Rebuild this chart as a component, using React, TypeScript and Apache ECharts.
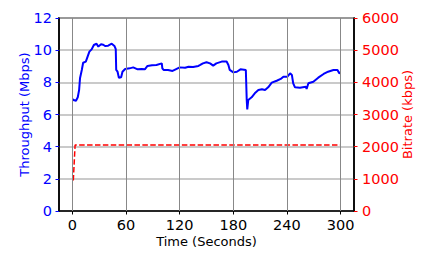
import React, { useEffect, useRef } from "react";
import * as echarts from "echarts";

const timeTicks = [0, 60, 120, 180, 240, 300];

const throughputTimes = [
  0, 2, 4, 6, 7.5, 8.5, 10.5, 12, 15, 17, 19, 21.5, 24, 27, 29, 32, 34.5, 36.5, 40, 44, 47, 48.5,
  49, 50.5, 52, 54.5, 56, 59, 64, 68, 73, 77.5, 81, 84, 89, 94, 100, 100.6, 102, 107, 112, 115.5,
  120, 126, 130, 135, 141, 143, 146, 150, 154, 157.5, 161, 167, 172.5, 174.5, 176, 180, 184, 188,
  194, 195, 195.6, 196.7, 200.5, 204, 208, 212, 215.5, 219, 223, 228.5, 233, 236, 240.5, 243.5,
  245.5, 247, 249, 254.5, 261, 262, 264, 269.5, 275, 281, 286, 292, 296.5, 298.5, 300,
];
const throughputValues = [
  6.95, 6.88, 6.86, 7.07, 7.52, 8.25, 8.77, 9.22, 9.29, 9.6, 9.91, 10.05, 10.32, 10.4, 10.22, 10.37,
  10.34, 10.26, 10.28, 10.4, 10.26, 10.06, 8.77, 8.66, 8.29, 8.31, 8.66, 8.83, 8.87, 8.93, 8.81,
  8.83, 8.81, 9.02, 9.06, 9.08, 9.18, 8.87, 8.77, 8.77, 8.71, 8.81, 8.93, 8.91, 8.97, 8.96, 9.02,
  9.08, 9.18, 9.25, 9.18, 9.04, 9.18, 9.29, 9.29, 9.08, 8.77, 8.62, 8.66, 8.81, 8.77, 6.9, 6.32,
  6.9, 7.07, 7.32, 7.52, 7.57, 7.52, 7.69, 7.98, 8.1, 8.21, 8.35, 8.35, 8.56, 8.46, 7.94, 7.69,
  7.67, 7.73, 7.59, 7.94, 8.04, 8.29, 8.52, 8.66, 8.77, 8.77, 8.56, 8.62,
];

const bitrateTimes = [1, 3, 300];
const bitrateValues = [950, 2050, 2050];

const FONT = "DejaVu Sans";
const BLUE = "#0000ff";
const RED = "#ff0000";

export default function App() {
  const ref = useRef<HTMLDivElement>(null);
  useEffect(() => {
    const chart = echarts.init(ref.current!, null, { renderer: "svg" });
    const throughput = throughputTimes.map((t, i) => [t, throughputValues[i]]);
    const bitrate = bitrateTimes.map((t, i) => [t, bitrateValues[i]]);
    chart.setOption({
      animation: false,
      backgroundColor: "#ffffff",
      textStyle: { fontFamily: FONT },
      grid: {
        left: 59,
        right: 68,
        top: 18,
        bottom: 44,
        show: true,
        borderColor: "#000",
        borderWidth: 1.5,
        backgroundColor: "transparent",
        outerBoundsMode: "none",
      },
      xAxis: {
        type: "value",
        min: -15,
        max: 315,
        name: "Time (Seconds)",
        nameLocation: "middle",
        nameGap: 24,
        nameMoveOverlap: false,
        nameTextStyle: { fontFamily: FONT, fontSize: 13, color: "#000" },
        axisLine: { show: true, onZero: false, lineStyle: { color: "#000", width: 1.5 } },
        axisTick: {
          show: true,
          inside: false,
          length: 3.5,
          customValues: timeTicks,
          lineStyle: { color: "#000", width: 1 },
        },
        axisLabel: {
          customValues: timeTicks,
          margin: 6,
          fontFamily: FONT,
          fontSize: 14.5,
          color: "#000",
        },
        splitLine: { show: false },
      },
      yAxis: [
        {
          type: "value",
          min: 0,
          max: 12,
          interval: 2,
          position: "left",
          name: "Throughput (Mbps)",
          nameLocation: "middle",
          nameRotate: 90,
          nameGap: 28,
          nameMoveOverlap: false,
          nameTextStyle: { fontFamily: FONT, fontSize: 13, color: BLUE },
          axisLine: { show: true, onZero: false, lineStyle: { color: "#000", width: 1.5 } },
          axisTick: { show: true, length: 3.5, lineStyle: { color: BLUE, width: 1 } },
          axisLabel: { margin: 7, fontFamily: FONT, fontSize: 14.5, color: BLUE },
          splitLine: { show: true, lineStyle: { color: "#b8b8b8", width: 1.5 } },
        },
        {
          type: "value",
          min: 0,
          max: 6000,
          interval: 1000,
          position: "right",
          name: "Bitrate (kbps)",
          nameLocation: "middle",
          nameRotate: 90,
          nameGap: 47,
          nameMoveOverlap: false,
          nameTextStyle: { fontFamily: FONT, fontSize: 13, color: RED },
          axisLine: { show: true, onZero: false, lineStyle: { color: "#000", width: 1.5 } },
          axisTick: { show: true, length: 3.5, lineStyle: { color: RED, width: 1 } },
          axisLabel: {
            margin: 8,
            fontFamily: FONT,
            fontSize: 14.5,
            color: RED,
            formatter: (v: number) => String(v),
          },
          splitLine: { show: false },
        },
      ],
      series: [
        {
          type: "line",
          name: "grid",
          xAxisIndex: 0,
          yAxisIndex: 0,
          data: [],
          silent: true,
          z: 1,
          markLine: {
            silent: true,
            symbol: ["none", "none"],
            label: { show: false },
            lineStyle: { color: "#888888", width: 1, type: "solid" },
            data: timeTicks.map((t) => ({ xAxis: t })),
          },
        },
        {
          type: "line",
          name: "Throughput",
          xAxisIndex: 0,
          yAxisIndex: 0,
          data: throughput,
          showSymbol: false,
          symbol: "none",
          lineStyle: { color: BLUE, width: 2 },
          z: 3,
        },
        {
          type: "line",
          name: "Bitrate",
          xAxisIndex: 0,
          yAxisIndex: 1,
          data: bitrate,
          showSymbol: false,
          symbol: "none",
          lineStyle: { color: RED, width: 1.5, type: [5.5, 2.4] },
          z: 4,
        },
      ],
    });
    return () => chart.dispose();
  }, []);
  return (
    <div
      ref={ref}
      style={{ position: "fixed", left: 0, top: 0, width: 422, height: 255 }}
    />
  );
}
